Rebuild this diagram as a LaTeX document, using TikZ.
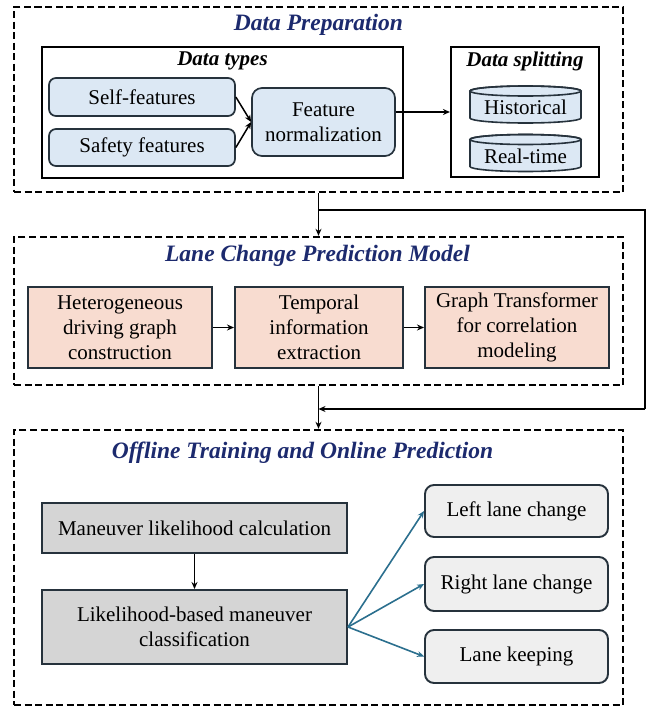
\documentclass[tikz,border=0pt]{standalone}
\usepackage{fontspec}
\setmainfont{Liberation Serif}
\usetikzlibrary{arrows.meta,calc}
\definecolor{navy}{HTML}{1C2A6E}
\definecolor{bluefill}{HTML}{DCE8F4}
\definecolor{boxline}{HTML}{26323C}
\definecolor{peach}{HTML}{F8DCD0}
\definecolor{darkgray}{HTML}{D5D5D5}
\definecolor{lightgray}{HTML}{EFEFEF}
\definecolor{teal}{HTML}{2B6F8E}
\begin{document}
\begin{tikzpicture}[x=1pt,y=-1pt,
  dashbox/.style={draw, line width=2.4pt, dash pattern=on 7pt off 3.5pt, inner sep=0pt},
  frame/.style={draw, line width=2.1pt, inner sep=0pt},
  txt/.style={font=\fontsize{21}{25}\selectfont, align=center, inner sep=0pt},
  bluebox/.style={txt, draw=boxline, fill=bluefill, line width=1.7pt, rounded corners=7pt},
  peachbox/.style={txt, draw=boxline, fill=peach, line width=2pt},
  graybox/.style={txt, draw=boxline, fill=darkgray, line width=2pt},
  outbox/.style={txt, draw=boxline, fill=lightgray, line width=1.9pt, rounded corners=9pt},
  cylbody/.style={draw=boxline, fill=bluefill, line width=1.6pt},
  title/.style={font=\fontsize{23.5}{27}\selectfont\bfseries\itshape, text=navy, inner sep=0pt},
  subtitle/.style={font=\fontsize{21}{24}\selectfont\bfseries\itshape, inner sep=0pt},
  arr/.style={-{Stealth[length=7pt,width=6pt]}, line width=1.5pt},
  tarr/.style={-{Stealth[length=7pt,width=6pt]}, line width=1.6pt, draw=teal},
]
\useasboundingbox (0,0) rectangle (655,707);

% ---------- Data Preparation ----------
\node[dashbox, minimum width=609pt, minimum height=185pt] (dp) at (318.5,99.5) {};
\node[title] (dptitle) at (318.5,25) {Data Preparation};

\node[frame, minimum width=361pt, minimum height=131pt] (dtypes) at (222.5,112.5) {};
\node[subtitle] (dtitle) at (222.5,61) {Data types};
\node[bluebox, minimum width=186pt, minimum height=38pt] (self) at (142,97) {Self-features};
\node[bluebox, minimum width=186pt, minimum height=37pt] (safety) at (142,147.5) {Safety features};
\node[bluebox, minimum width=143pt, minimum height=68pt, rounded corners=10pt] (fnorm) at (323.5,122) {Feature\\normalization};

\node[frame, minimum width=148pt, minimum height=130pt] (dsplit) at (525,112) {};
\node[subtitle] (stitle) at (525,61) {Data splitting};

\coordinate (histc) at (525.5,104.5);
\coordinate (rtc) at (525.5,153);
\foreach \c in {histc,rtc}{
  \path[cylbody] ($(\c)+(-55.5,-13.5)$) -- ($(\c)+(-55.5,13.5)$)
     arc[start angle=180,end angle=360,x radius=55.5pt,y radius=5pt]
     -- ($(\c)+(55.5,-13.5)$)
     arc[start angle=0,end angle=180,x radius=55.5pt,y radius=5pt] -- cycle;
  \draw[boxline, line width=1.6pt] ($(\c)+(0,-13.5)$) ellipse[x radius=55.5pt,y radius=5pt];
}
\node[txt] (hist) at ($(histc)+(0,3)$) {Historical};
\node[txt] (rt) at ($(rtc)+(0,3)$) {Real-time};

\draw[arr] (self.east) -- (fnorm.west);
\draw[arr] (safety.east) -- (fnorm.west);
\draw[arr] (dsplit.west -| fnorm.east) -- (dsplit.west);

% ---------- Lane Change Prediction Model ----------
\node[dashbox, minimum width=609pt, minimum height=148pt] (lcp) at (318.5,311) {};
\node[title] (lcptitle) at (317.5,256) {Lane Change Prediction Model};
\node[peachbox, minimum width=184pt, minimum height=81pt] (het) at (120,327.5) {Heterogeneous\\driving graph\\construction};
\node[peachbox, minimum width=168pt, minimum height=81pt] (temp) at (319,327.5) {Temporal\\information\\extraction};
\node[peachbox, minimum width=184pt, minimum height=81pt] (gt) at (517,327.5) {Graph Transformer\\for correlation\\modeling};
\draw[arr] (het.east) -- (temp.west);
\draw[arr] (temp.east) -- (gt.west);

% ---------- Offline Training and Online Prediction ----------
\node[dashbox, minimum width=609pt, minimum height=275pt] (otp) at (318.5,567.5) {};
\node[title] (otptitle) at (302.5,453) {Offline Training and Online Prediction};
\node[graybox, minimum width=305pt, minimum height=50pt] (man) at (194.5,528) {Maneuver likelihood calculation};
\node[graybox, minimum width=305pt, minimum height=74pt] (lik) at (194.5,627) {Likelihood-based maneuver\\classification};
\node[outbox, minimum width=183pt, minimum height=52pt] (llc) at (516.5,511) {Left lane change};
\node[outbox, minimum width=183pt, minimum height=54pt] (rlc) at (516.5,584) {Right lane change};
\node[outbox, minimum width=183pt, minimum height=53pt] (lk) at (516.5,656.5) {Lane keeping};
\draw[arr] (man.south) -- (lik.north);
\draw[tarr] (lik.east) -- (llc.west);
\draw[tarr] (lik.east) -- (rlc.west);
\draw[tarr] (lik.east) -- (lk.west);

% ---------- connectors between stages ----------
\coordinate (b1) at ($(dp.south)!0.4!(lcp.north)$);
\coordinate (r1) at (645,210);
\coordinate (r2) at (645,409);
\coordinate (b2) at (318.5,409);
\draw[arr] (dp.south) -- (lcp.north);
\draw[line width=1.5pt] (b1) -- (b1 -| r1) -- (r2);
\draw[arr] (r2) -- (b2);
\draw[arr] (lcp.south) -- (otp.north);
\end{tikzpicture}
\end{document}
